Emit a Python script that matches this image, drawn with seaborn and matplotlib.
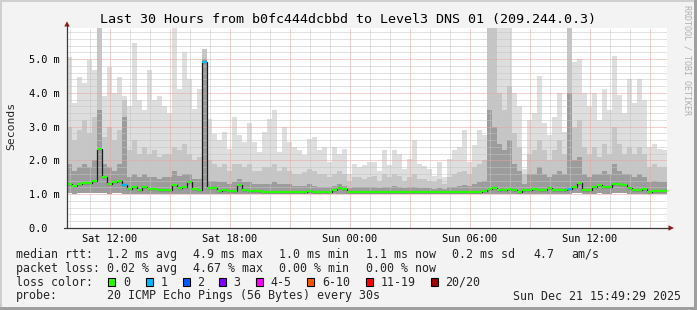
import numpy as np
import pandas as pd
import matplotlib
matplotlib.use("Agg")
import matplotlib.pyplot as plt
import seaborn as sns
from matplotlib.patches import Rectangle, Polygon
from matplotlib.lines import Line2D

# ---------------- data (15-minute bins, milliseconds) ----------------
start_hour = 9.85          # hours since Sat 00:00 at the left edge
step_hours = 0.25

median_ms = [
    1.29, 1.25, 1.30, 1.33, 1.32, 1.40, 2.35, 1.50, 1.30, 1.35,
    1.38, 1.26, 1.14, 1.20, 1.13, 1.22, 1.14, 1.15, 1.13, 1.13,
    1.12, 1.28, 1.19, 1.20, 1.35, 1.14, 1.13, 4.91, 1.18, 1.17,
    1.10, 1.12, 1.09, 1.11, 1.27, 1.12, 1.11, 1.10, 1.10, 1.08,
    1.07, 1.07, 1.07, 1.08, 1.07, 1.07, 1.07, 1.08, 1.10, 1.07,
    1.08, 1.06, 1.07, 1.12, 1.17, 1.14, 1.07, 1.07, 1.06, 1.07,
    1.07, 1.07, 1.06, 1.07, 1.07, 1.08, 1.07, 1.07, 1.06, 1.07,
    1.07, 1.08, 1.07, 1.07, 1.06, 1.07, 1.07, 1.07, 1.06, 1.07,
    1.07, 1.07, 1.07, 1.10, 1.14, 1.17, 1.12, 1.13, 1.16, 1.13,
    1.08, 1.12, 1.12, 1.16, 1.13, 1.12, 1.17, 1.13, 1.12, 1.13,
    1.16, 1.20, 1.33, 1.12, 1.12, 1.20, 1.26, 1.22, 1.22, 1.31,
    1.29, 1.28, 1.17, 1.12, 1.12, 1.15, 1.07, 1.10, 1.10, 1.11,
]

ping_max = [
    5.06, 3.70, 4.48, 4.30, 4.97, 4.67, 5.92, 3.90, 4.77, 4.00,
    4.47, 3.90, 3.60, 5.47, 3.80, 3.50, 4.67, 3.80, 3.90, 3.60,
    3.40, 5.92, 4.12, 5.20, 4.42, 3.53, 4.10, 5.30, 3.23, 2.78,
    2.60, 2.84, 2.35, 3.28, 2.75, 2.55, 3.10, 2.55, 2.26, 2.85,
    3.23, 3.49, 2.26, 2.99, 2.55, 2.40, 2.30, 2.15, 2.64, 2.70,
    2.30, 2.40, 1.95, 2.40, 2.20, 2.35, 1.60, 1.90, 1.80, 1.87,
    1.95, 1.95, 1.70, 2.30, 1.87, 2.30, 2.20, 1.75, 2.05, 2.60,
    1.90, 1.85, 1.75, 1.55, 1.95, 1.50, 2.05, 2.30, 2.40, 2.90,
    1.95, 2.45, 2.90, 2.75, 5.92, 5.92, 5.92, 5.92, 5.92, 4.00,
    3.60, 1.75, 3.20, 3.40, 4.50, 3.10, 2.75, 3.30, 4.00, 2.85,
    5.92, 4.90, 5.00, 4.00, 3.60, 4.00, 3.20, 4.10, 3.50, 5.10,
    3.95, 3.40, 4.40, 3.70, 4.40, 3.80, 2.40, 2.50, 2.35, 2.30,
]

ping_p90 = [
    3.00, 2.60, 2.90, 3.20, 2.80, 3.30, 5.92, 2.70, 3.00, 2.60,
    2.90, 3.80, 2.30, 2.60, 2.20, 2.40, 2.20, 2.30, 2.10, 2.20,
    2.20, 2.40, 2.30, 2.50, 2.20, 2.00, 2.10, 5.30, 2.00, 1.90,
    1.80, 1.90, 1.70, 1.90, 1.90, 1.80, 1.90, 1.70, 1.70, 1.80,
    1.80, 1.90, 1.70, 1.80, 1.70, 1.60, 1.60, 1.65, 1.75, 1.70,
    1.60, 1.60, 1.50, 1.60, 1.70, 1.60, 1.40, 1.50, 1.50, 1.45,
    1.50, 1.55, 1.40, 1.60, 1.50, 1.60, 1.55, 1.40, 1.50, 1.60,
    1.45, 1.45, 1.40, 1.35, 1.45, 1.30, 1.50, 1.60, 1.65, 1.70,
    1.60, 1.80, 1.90, 2.00, 5.92, 5.92, 4.00, 3.50, 4.20, 2.80,
    2.40, 1.60, 2.20, 2.30, 2.60, 2.30, 2.00, 2.30, 2.60, 2.20,
    5.92, 3.00, 3.20, 2.40, 2.20, 2.40, 2.10, 2.50, 2.20, 3.00,
    2.50, 2.20, 2.40, 2.20, 2.40, 2.20, 1.80, 1.90, 1.80, 1.80,
]

ping_p75 = [
    1.90, 1.70, 1.80, 1.90, 1.80, 2.00, 3.50, 1.90, 1.80, 1.70,
    1.90, 3.30, 1.50, 1.60, 1.50, 1.60, 1.50, 1.50, 1.45, 1.50,
    1.50, 1.70, 1.55, 1.60, 1.60, 1.45, 1.45, 5.00, 1.40, 1.40,
    1.35, 1.35, 1.30, 1.35, 1.45, 1.35, 1.35, 1.30, 1.30, 1.30,
    1.30, 1.35, 1.30, 1.30, 1.30, 1.25, 1.25, 1.25, 1.30, 1.25,
    1.22, 1.22, 1.20, 1.25, 1.30, 1.25, 1.18, 1.20, 1.20, 1.20,
    1.20, 1.20, 1.18, 1.22, 1.20, 1.25, 1.20, 1.17, 1.20, 1.22,
    1.18, 1.18, 1.17, 1.15, 1.18, 1.15, 1.20, 1.22, 1.25, 1.28,
    1.25, 1.30, 1.35, 1.40, 3.50, 3.00, 2.50, 2.30, 2.60, 1.90,
    1.70, 1.30, 1.60, 1.60, 1.80, 1.60, 1.50, 1.60, 1.70, 1.60,
    4.00, 2.00, 2.10, 1.60, 1.50, 1.60, 1.60, 1.70, 1.60, 1.90,
    1.70, 1.60, 1.60, 1.50, 1.60, 1.50, 1.35, 1.40, 1.35, 1.35,
]

ping_min = [
    1.03, 1.02, 1.03, 1.04, 1.03, 1.04, 1.05, 1.03, 1.02, 1.03,
    1.03, 1.02, 1.01, 1.02, 1.01, 1.02, 1.01, 1.01, 1.01, 1.01,
    1.01, 1.02, 1.02, 1.02, 1.02, 1.01, 1.01, 1.02, 1.01, 1.01,
    1.00, 1.01, 1.00, 1.01, 1.01, 1.01, 1.00, 1.00, 1.00, 1.00,
    1.00, 1.00, 1.00, 1.00, 1.00, 1.00, 1.00, 1.00, 1.01, 1.00,
    1.00, 1.00, 1.00, 1.01, 1.02, 1.01, 1.00, 1.00, 1.00, 1.00,
    1.00, 1.00, 1.00, 1.00, 1.00, 1.00, 1.00, 1.00, 1.00, 1.00,
    1.00, 1.00, 1.00, 1.00, 1.00, 1.00, 1.00, 1.00, 1.00, 1.00,
    1.00, 1.00, 1.00, 1.01, 1.02, 1.02, 1.01, 1.01, 1.02, 1.01,
    1.00, 1.01, 1.01, 1.02, 1.01, 1.01, 1.02, 1.01, 1.01, 1.01,
    1.02, 1.03, 1.04, 1.01, 1.01, 1.02, 1.03, 1.02, 1.02, 1.03,
    1.03, 1.03, 1.02, 1.01, 1.01, 1.02, 1.00, 1.01, 1.01, 1.01,
]

loss_count = [0] * 120
loss_count[11] = 1
loss_count[27] = 1
loss_count[100] = 1

tick_hours = [12, 18, 24, 30, 36]
tick_labels = ["Sat 12:00", "Sat 18:00", "Sun 00:00", "Sun 06:00", "Sun 12:00"]
y_ticks = [0, 1, 2, 3, 4, 5]
y_labels = ["0.0  ", "1.0 m", "2.0 m", "3.0 m", "4.0 m", "5.0 m"]

loss_names = ["0", "1", "2", "3", "4-5", "6-10", "11-19", "20/20"]
loss_colors = ["#26ff00", "#00b8ff", "#0059ff", "#7e00ff", "#ff00ff", "#ff5500", "#ff0000", "#a10000"]

title = "Last 30 Hours from b0fc444dcbbd to Level3 DNS 01 (209.244.0.3)"

# ---------------- figure ----------------
W, H = 697, 310
sns.set_style("white")
plt.rcParams['font.family'] = ['DejaVu Sans Mono', 'DejaVu Sans']

fig = plt.figure(figsize=(W / 100, H / 100), dpi=100, facecolor='#f3f3f3')


def fx(px):
    return px / W


def fy(py):
    return 1 - py / H


ax = fig.add_axes([fx(67), fy(228), 600 / W, 200 / H])
ax.set_facecolor('white')

n = len(median_ms)
edges = start_hour + step_hours * np.arange(n + 1)


def ext(a):
    a = np.asarray(a, dtype=float)
    return np.append(a, a[-1])


ax.fill_between(edges, ext(ping_min), ext(ping_max), step='post', color='#dedede', lw=0, zorder=1)
ax.fill_between(edges, ext(ping_min), ext(ping_p90), step='post', color='#c6c6c6', lw=0, zorder=1.1)
ax.fill_between(edges, ext(ping_min), ext(ping_p75), step='post', color='#9c9c9c', lw=0, zorder=1.2)

# median connectors (dark) + median segments coloured by loss
df = pd.DataFrame({"hour": edges, "rtt": ext(median_ms)})
sns.lineplot(data=df, x="hour", y="rtt", drawstyle="steps-post", color="#1c1c1c",
             lw=0.9, ax=ax, zorder=4, legend=False)
seg_colors = [loss_colors[c] for c in loss_count]
ax.hlines(median_ms, edges[:-1], edges[1:], colors=seg_colors, lw=1.6, zorder=5)

ax.set_xlim(start_hour, start_hour + step_hours * n)
ax.set_ylim(0, 5.92)

major_x = np.arange(12, 40, 3)
ax.set_xticks(major_x)
ax.set_xticklabels([tick_labels[tick_hours.index(h)] if h in tick_hours else "" for h in major_x])
ax.set_xticks(np.arange(10, 40, 1), minor=True)
ax.set_yticks(y_ticks)
ax.set_yticklabels(y_labels)
ax.set_yticks(np.arange(0, 5.92, 0.2), minor=True)

ax.grid(which='minor', color='#c4c4c4', ls=(0, (1, 1)), lw=0.72, zorder=3)
ax.grid(which='major', color='#e9a3a3', ls=(0, (1, 1)), lw=0.72, zorder=3)
ax.set_axisbelow(False)
for gl in ax.get_xgridlines() + ax.get_ygridlines():
    gl.set_zorder(3)

ax.tick_params(axis='x', which='both', length=0, pad=4.5, labelsize=7.4, colors='#000000')
ax.tick_params(axis='y', which='major', length=2.5, width=0.8, color='#333333', pad=3,
               labelsize=7.4, labelcolor='#000000')
ax.tick_params(axis='y', which='minor', length=0)
for s in ax.spines.values():
    s.set_visible(False)
ax.set_xlabel("")
ax.set_ylabel("")

# axes lines and arrows
axis_col = '#3a3a3a'
arrow_col = '#8e1a1a'
fig.add_artist(Line2D([fx(67), fx(67)], [fy(228), fy(25)], color=axis_col, lw=0.9))
fig.add_artist(Line2D([fx(64), fx(669)], [fy(228), fy(228)], color=axis_col, lw=0.9))
fig.add_artist(Polygon([[fx(64.3), fy(26.5)], [fx(69.7), fy(26.5)], [fx(67), fy(21.3)]],
                       closed=True, color=arrow_col, lw=0))
fig.add_artist(Polygon([[fx(668.5), fy(225.3)], [fx(668.5), fy(230.7)], [fx(674), fy(228)]],
                       closed=True, color=arrow_col, lw=0))

# frame
fig.add_artist(Rectangle((0, fy(2)), 1, 2 / H, color='#cfcfcf', lw=0))
fig.add_artist(Rectangle((0, 0), 2 / W, 1, color='#cfcfcf', lw=0))
fig.add_artist(Rectangle((fx(694), 0), 3 / W, 1, color='#9f9f9f', lw=0))
fig.add_artist(Rectangle((0, 0), 1, 3 / H, color='#9f9f9f', lw=0))

# texts
fig.text(fx(348), fy(19), title, ha='center', va='center', fontsize=9.6, color='#000000')
fig.text(fx(11), fy(126), "Seconds", rotation=90, ha='center', va='center', fontsize=8.2)
fig.text(fx(687), fy(5), "RRDTOOL / TOBI OETIKER", rotation=-90, ha='center', va='top',
         fontsize=6.0, color='#b0b0b0')

fs = 8.4
rows_y = [254.3, 268.3, 282.3, 296.0]
line1 = [(16, "median rtt:"), (107, "1.2 ms avg"), (192.7, "4.9 ms max"), (279, "1.0 ms min"),
         (366, "1.1 ms now"), (451.7, "0.2 ms sd"), (533, "4.7"), (571.7, "am/s")]
line2 = [(16, "packet loss:"), (107, "0.02 % avg"), (192.7, "4.67 % max"), (279, "0.00 % min"),
         (366, "0.00 % now")]
line4 = [(16, "probe:"), (107, "20 ICMP Echo Pings (56 Bytes) every 30s"),
         (513, "Sun Dec 21 15:49:29 2025")]
for px, t in line1:
    fig.text(fx(px), fy(rows_y[0]), t, ha='left', va='center', fontsize=fs)
for px, t in line2:
    fig.text(fx(px), fy(rows_y[1]), t, ha='left', va='center', fontsize=fs)
for px, t in line4:
    fig.text(fx(px), fy(rows_y[3]), t, ha='left', va='center', fontsize=fs)

fig.text(fx(16), fy(rows_y[2]), "loss color:", ha='left', va='center', fontsize=fs)
square_x = [108.3, 145.8, 182.7, 219.0, 256.0, 307.3, 366.0, 431.0]
for sx, name, col in zip(square_x, loss_names, loss_colors):
    fig.add_artist(Rectangle((fx(sx), fy(286)), 7 / W, 8 / H, facecolor=col,
                             edgecolor='#000000', lw=0.8))
    fig.text(fx(sx + 14.5), fy(rows_y[2]), name, ha='left', va='center', fontsize=fs)

fig.savefig("out.png", dpi=100, facecolor=fig.get_facecolor())
